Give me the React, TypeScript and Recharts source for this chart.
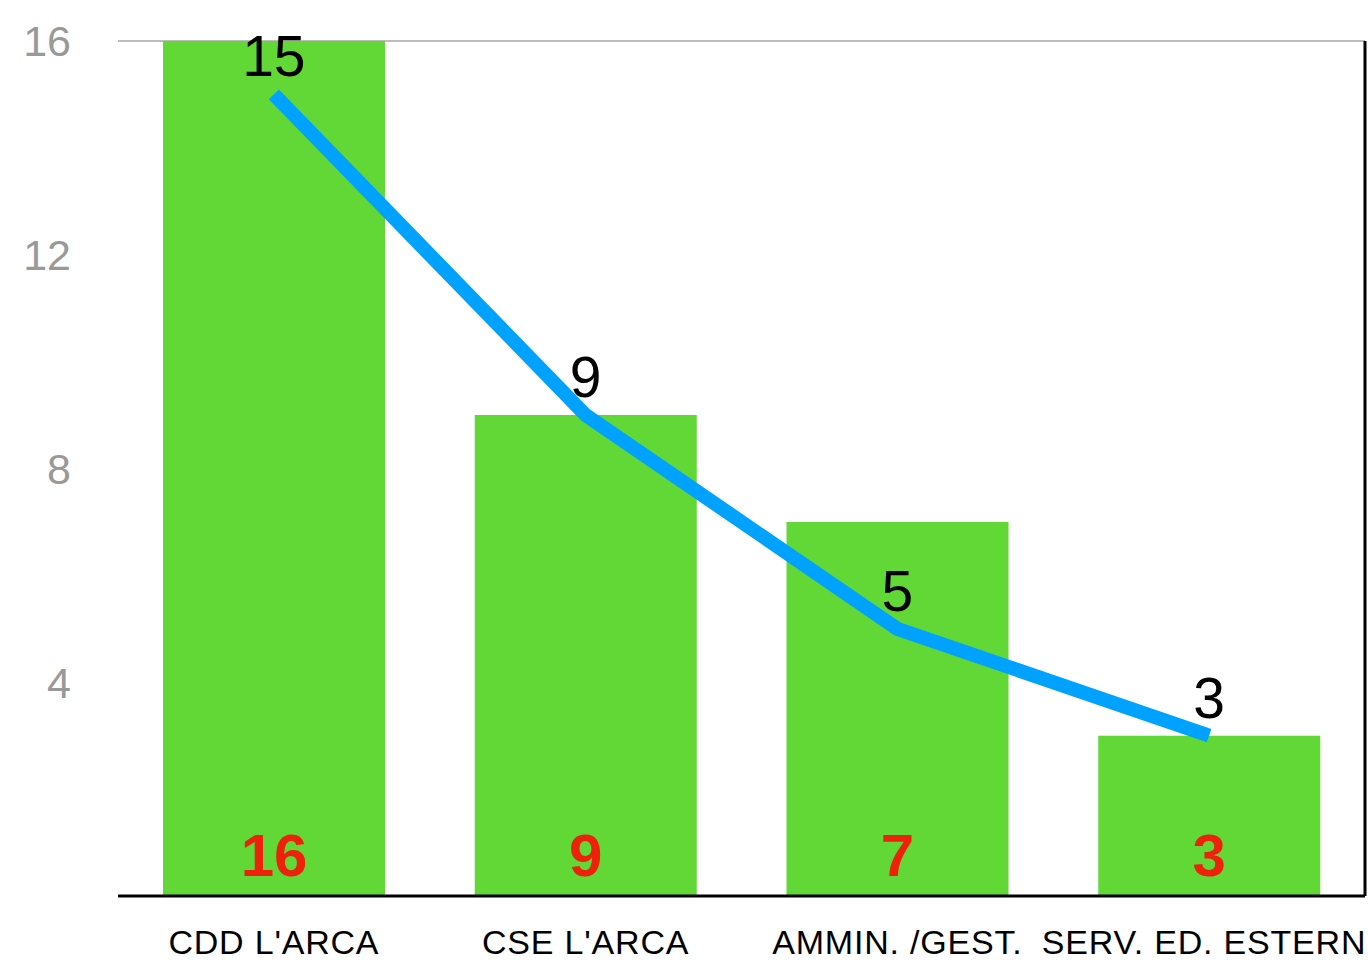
import React from 'react';
import { ComposedChart, Bar, Line, XAxis, YAxis, CartesianGrid, LabelList } from 'recharts';

const categories = ["CDD L'ARCA", "CSE L'ARCA", 'AMMIN. /GEST.', 'SERV. ED. ESTERNI'];
const barValues = [16, 9, 7, 3];
const lineValues = [15, 9, 5, 3];
const yTicks = [0, 4, 8, 12, 16];

const data = categories.map((name, i) => ({ name, bar: barValues[i], line: lineValues[i] }));

const FONT = '"Liberation Sans", Arial, sans-serif';

export default function App() {
  return (
    <div style={{ position: 'absolute', left: 0, top: 0, background: '#fff', fontFamily: FONT }}>
      <ComposedChart
        width={1368}
        height={961}
        data={data}
        margin={{ top: 41, right: 0, bottom: 0, left: 0 }}
      >
        <CartesianGrid vertical={false} stroke="#bdbdbd" strokeWidth={2} />
        <XAxis
          dataKey="name"
          height={65}
          axisLine={{ stroke: '#000', strokeWidth: 3 }}
          tickLine={false}
          interval={0}
          tickMargin={28}
          tick={{ fill: '#000', fontSize: 34, fontFamily: FONT, letterSpacing: 0.8 }}
        />
        <YAxis
          yAxisId="left"
          width={118}
          domain={[0, 16]}
          ticks={yTicks}
          axisLine={false}
          tickLine={false}
          tickSize={0}
          tickMargin={47}
          tick={{ fill: '#999', fontSize: 43, fontFamily: FONT }}
          tickFormatter={(v: number) => (v === 0 ? '' : String(v))}
        />
        <YAxis
          yAxisId="right"
          orientation="right"
          width={3}
          domain={[0, 16]}
          tick={false}
          tickLine={false}
          axisLine={{ stroke: '#000', strokeWidth: 3 }}
        />
        <Bar yAxisId="left" dataKey="bar" fill="#61D836" barSize={222} isAnimationActive={false}>
          <LabelList
            dataKey="bar"
            position="insideBottom"
            offset={20}
            fill="#EE220C"
            fontSize={60}
            fontWeight="bold"
            fontFamily={FONT}
          />
        </Bar>
        <Line
          yAxisId="left"
          dataKey="line"
          stroke="#00A2FF"
          strokeWidth={14}
          strokeLinecap="butt"
          dot={false}
          activeDot={false}
          isAnimationActive={false}
        >
          <LabelList
            dataKey="line"
            position="top"
            offset={18}
            fill="#000"
            fontSize={57}
            fontFamily={FONT}
          />
        </Line>
      </ComposedChart>
    </div>
  );
}
